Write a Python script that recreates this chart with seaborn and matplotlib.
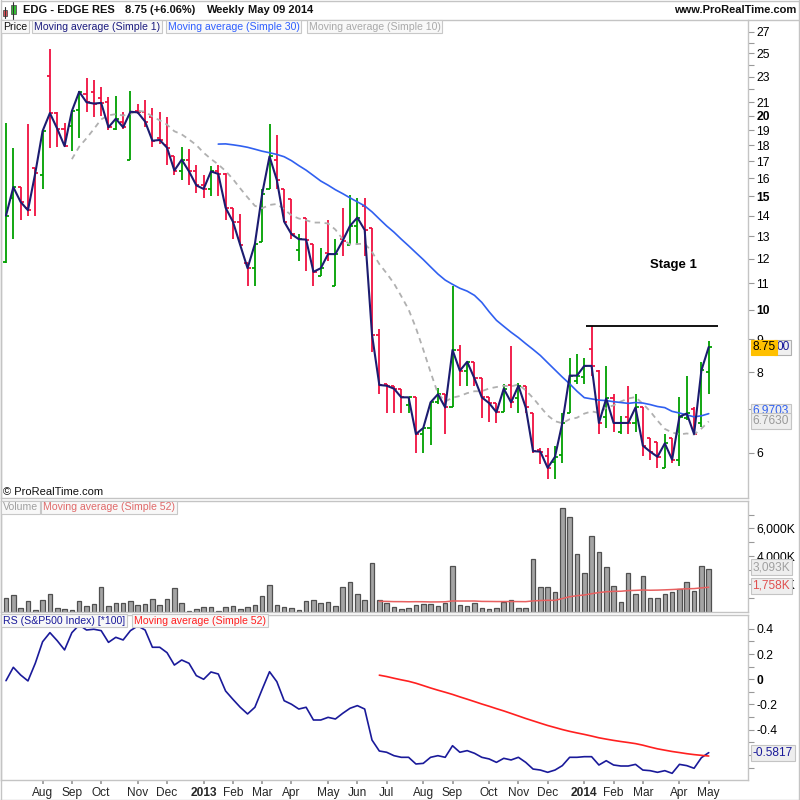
import numpy as np
import pandas as pd
import matplotlib
matplotlib.use("Agg")
import matplotlib.pyplot as plt
import seaborn as sns
from matplotlib.patches import Rectangle
from matplotlib.lines import Line2D
from matplotlib.ticker import FixedLocator, FixedFormatter, NullLocator

sns.set_theme(style="white")
plt.rcParams['font.family'] = ['Liberation Sans', 'DejaVu Sans']

# ---------------- data (weekly bars, week of 2012-07-02 .. 2014-05-05) ----------------
start_week = '2012-07-02'
opens = [11.86, 14.9, 15.5, 14.4, 16.6, 16.2, 23.1, 20.2, 19.1, 19.3,
         20.4, 21.6, 21.8, 21.3, 21.0, 19.1, 19.6, 17.1, 20.35, 20.3,
         19.9, 18.45, 18.0, 17.3, 16.45, 17.1, 16.4, 15.6, 15.4, 16.4,
         16.25, 14.4, 13.7, 11.8, 11.6, 12.75, 15.4, 17.1, 15.4, 14.85,
         12.4, 13.9, 12.65, 11.3, 12.25, 10.9, 12.87, 12.6, 13.5, 14.5,
         13.4, 9.15, 7.66, 7.62, 7.54, 7.1, 7.31, 6.41, 6.55, 7.18,
         7.39, 7.05, 8.66, 8.04, 8.3, 7.82, 7.32, 7.16, 6.93, 7.63,
         7.28, 7.62, 6.9, 6.05, 5.92, 5.8, 5.95, 6.9, 7.75, 7.85,
         8.69, 8.02, 6.82, 7.28, 6.45, 6.82, 6.67, 7.05, 6.33, 6.22,
         5.68, 6.32, 5.85, 6.8, 7.0, 6.67, 8.0]
highs = [19.5, 17.8, 15.5, 19.4, 16.6, 18.95, 25.4, 20.25, 19.5, 20.4,
         21.9, 22.9, 22.7, 22.2, 21.4, 21.5, 20.3, 21.9, 20.9, 21.2,
         20.6, 20.3, 19.9, 17.3, 17.9, 17.75, 16.8, 16.2, 16.7, 16.8,
         16.3, 14.4, 14.1, 11.8, 12.65, 15.4, 19.4, 18.7, 15.4, 14.85,
         13.1, 13.9, 12.65, 12.45, 13.8, 12.9, 14.4, 15.05, 14.9, 14.9,
         13.4, 9.35, 7.67, 7.62, 7.54, 7.31, 7.31, 6.55, 7.18, 7.55,
         7.39, 10.9, 8.8, 8.3, 8.3, 7.82, 7.32, 7.16, 7.66, 8.79,
         7.7, 7.62, 6.9, 6.1, 6.1, 6.15, 6.9, 8.4, 8.55, 8.42,
         9.45, 8.05, 8.18, 7.39, 6.85, 7.62, 7.4, 7.05, 6.33, 6.22,
         6.41, 6.32, 7.33, 7.9, 7.05, 8.3, 8.95]
lows = [11.8, 12.9, 13.8, 14.0, 14.0, 15.4, 17.8, 17.9, 17.9, 17.65,
        18.5, 20.3, 19.9, 20.0, 19.0, 19.0, 19.1, 17.1, 20.1, 19.2,
        17.9, 18.1, 16.8, 16.2, 15.9, 15.6, 15.2, 14.9, 15.0, 15.0,
        13.8, 12.9, 12.6, 10.9, 10.9, 12.75, 15.4, 15.4, 13.7, 12.9,
        11.9, 11.5, 10.9, 11.3, 11.9, 10.9, 12.1, 12.6, 12.6, 12.1,
        8.6, 7.4, 6.9, 6.9, 6.9, 6.9, 6.0, 6.0, 6.17, 7.15,
        6.41, 7.05, 7.62, 7.62, 7.62, 6.8, 6.7, 6.67, 6.93, 7.03,
        6.9, 6.9, 6.0, 5.75, 5.45, 5.45, 5.78, 6.9, 7.67, 7.67,
        7.9, 6.41, 6.55, 6.45, 6.41, 6.41, 6.45, 5.92, 5.85, 5.68,
        5.68, 5.78, 5.72, 6.75, 6.41, 6.57, 7.39]
closes = [14.0, 15.5, 14.7, 14.27, 16.3, 18.95, 20.2, 19.1, 17.95, 20.35,
          21.8, 21.0, 20.9, 20.95, 19.2, 19.8, 19.2, 20.3, 20.25, 19.6,
          18.3, 18.35, 17.85, 16.45, 17.1, 16.4, 15.6, 15.4, 16.4, 16.25,
          14.4, 13.7, 12.6, 11.6, 12.65, 15.15, 17.3, 15.9, 13.7, 13.1,
          12.87, 12.85, 11.45, 11.6, 12.2, 12.2, 12.8, 13.5, 13.9, 13.3,
          9.15, 7.64, 7.62, 7.54, 7.31, 7.31, 6.41, 6.55, 7.18, 7.39,
          7.05, 8.66, 8.04, 8.3, 7.82, 7.31, 7.16, 6.93, 7.54, 7.18,
          7.62, 7.05, 6.03, 6.02, 5.68, 5.91, 6.67, 7.9, 7.9, 8.18,
          8.18, 6.67, 7.28, 6.67, 6.67, 6.67, 7.05, 6.15, 6.02, 5.91,
          6.2, 5.85, 6.82, 6.9, 6.41, 8.05, 8.75]
volume_k = [987, 1204, 265, 746, 120, 842, 1276, 265, 193, 120,
            746, 409, 554, 1781, 409, 626, 626, 746, 481, 554,
            915, 481, 915, 1709, 626, 48, 193, 337, 337, 48,
            337, 409, 193, 337, 481, 1131, 1926, 481, 337, 265,
            120, 770, 842, 626, 698, 409, 1781, 2142, 1276, 842,
            3514, 842, 626, 337, 193, 265, 481, 554, 554, 409,
            626, 3273, 481, 409, 626, 265, 193, 265, 674, 842,
            265, 265, 3803, 1805, 1805, 1396, 7486, 6836, 4164, 2792,
            5464, 4309, 3249, 1853, 698, 2792, 1276, 2575, 987, 987,
            1276, 1420, 1637, 2142, 1492, 3298, 3093]
rs = [-0.011, 0.095, 0.034, -0.013, 0.127, 0.298, 0.37, 0.306, 0.233, 0.37,
      0.431, 0.391, 0.397, 0.386, 0.293, 0.333, 0.312, 0.386, 0.423, 0.391,
      0.254, 0.254, 0.211, 0.113, 0.153, 0.127, 0.029, 0.0, 0.058, 0.042,
      -0.093, -0.159, -0.222, -0.275, -0.222, -0.079, 0.06, -0.019, -0.17, -0.198,
      -0.236, -0.222, -0.323, -0.323, -0.302, -0.315, -0.27, -0.23, -0.209, -0.236,
      -0.482, -0.569, -0.579, -0.606, -0.619, -0.619, -0.672, -0.667, -0.619, -0.606,
      -0.619, -0.527, -0.579, -0.566, -0.587, -0.619, -0.632, -0.659, -0.627, -0.64,
      -0.619, -0.659, -0.712, -0.72, -0.738, -0.72, -0.685, -0.619, -0.619, -0.614,
      -0.614, -0.68, -0.646, -0.68, -0.688, -0.688, -0.675, -0.72, -0.725, -0.738,
      -0.725, -0.746, -0.675, -0.685, -0.706, -0.622, -0.582]
resistance = 9.45
resistance_span = (79.2, 97.3)

price_ticks = [6, 7, 8, 9, 10, 11, 12, 13, 14, 15, 16, 17, 18, 19, 20, 21, 22, 23, 24, 25, 26, 27]
price_labels = ['6', '', '8', '9', '10', '11', '12', '13', '14', '15', '16', '17', '18', '19', '20',
                '21', '', '23', '', '25', '', '27']
vol_ticks = [1000, 2000, 3000, 4000, 5000, 6000, 7000]
vol_labels = ['', '2,000K', '', '4,000K', '', '6,000K', '']
rs_ticks = [-0.7, -0.6, -0.5, -0.4, -0.3, -0.2, -0.1, 0.0, 0.1, 0.2, 0.3, 0.4]
rs_labels = ['', '', '', '-0.4', '', '-0.2', '', '0', '', '0.2', '', '0.4']

n = len(closes)
dates = pd.date_range(start_week, periods=n, freq='W-MON')
df = pd.DataFrame({'i': np.arange(n), 'open': opens, 'high': highs, 'low': lows,
                   'close': closes, 'volume': volume_k, 'rs': rs})
df['ma1'] = df['close'].rolling(1).mean()
df['ma30'] = df['close'].rolling(30).mean()
df['ma10'] = df['close'].rolling(10).mean()
df['vma'] = df['volume'].rolling(52).mean()
df['rsma'] = df['rs'].rolling(52).mean()

# ---------------- layout ----------------
W = H = 800
fig = plt.figure(figsize=(8, 8), dpi=100)
fig.patch.set_facecolor('white')

def rect(x0, y0, x1, y1):
    return [x0 / W, 1 - y1 / H, (x1 - x0) / W, (y1 - y0) / H]

def fx(x):
    return x / W

def fy(y):
    return 1 - y / H

SP = '#c4c4c4'
axp = fig.add_axes(rect(1, 20, 748, 498))
axv = fig.add_axes(rect(1, 501, 748, 612), sharex=axp)
axr = fig.add_axes(rect(1, 615, 748, 780), sharex=axp)

for ax in (axp, axv, axr):
    ax.set_facecolor('white')
    for s in ax.spines.values():
        s.set_color(SP)
        s.set_linewidth(1)
    ax.grid(False)
    ax.yaxis.tick_right()
    ax.tick_params(axis='y', which='both', direction='out', length=4, width=0.8,
                   color='#999999', labelsize=8.7, pad=2, labelcolor='black', left=False, right=True)

# ---------------- price panel ----------------
up = df['close'] >= df['open']
cols = np.where(up, '#00a000', '#f01040')
axp.vlines(df['i'], df['low'], df['high'], colors=cols, lw=1.3, zorder=2)
axp.hlines(df['open'], df['i'] - 0.42, df['i'], colors=cols, lw=1.3, zorder=2)
axp.hlines(df['close'], df['i'], df['i'] + 0.42, colors=cols, lw=1.3, zorder=2)

sns.lineplot(data=df, x='i', y='ma10', ax=axp, color='#b0b0b0', lw=1.3,
             linestyle=(0, (3, 2.5)), legend=False, zorder=3)
sns.lineplot(data=df, x='i', y='ma30', ax=axp, color='#3060f0', lw=1.2, legend=False, zorder=3)
sns.lineplot(data=df, x='i', y='ma1', ax=axp, color='#1c1c70', lw=1.5, legend=False, zorder=4)
axp.hlines(resistance, resistance_span[0], resistance_span[1], colors='black', lw=1.3, zorder=4)

axp.set_yscale('log')
axp.set_ylim(5.10, 28.18)
axp.yaxis.set_major_locator(FixedLocator(price_ticks))
axp.yaxis.set_major_formatter(FixedFormatter(price_labels))
axp.yaxis.set_minor_locator(NullLocator())
axp.set_xlabel('')
axp.set_ylabel('')
fig.text(673 / W, 1 - 265 / H, 'Stage 1', fontsize=9.5, fontweight='bold',
         ha='center', va='center', color='black')

# ---------------- volume panel ----------------
sns.barplot(data=df, x='i', y='volume', ax=axv, native_scale=True, color='#a4a4a4',
            edgecolor='#505050', linewidth=0.9, width=0.62, errorbar=None, saturation=1, zorder=2)
sns.lineplot(data=df, x='i', y='vma', ax=axv, color='#e86060', lw=1.1, legend=False, zorder=3)
axv.set_ylim(-36, 7978)
axv.yaxis.set_major_locator(FixedLocator(vol_ticks))
axv.yaxis.set_major_formatter(FixedFormatter(vol_labels))
axv.yaxis.set_minor_locator(NullLocator())
axv.set_xlabel('')
axv.set_ylabel('')

# ---------------- RS panel ----------------
sns.lineplot(data=df, x='i', y='rs', ax=axr, color='#1a1a9a', lw=1.2, legend=False, zorder=3)
sns.lineplot(data=df, x='i', y='rsma', ax=axr, color='#ff2020', lw=1.2, legend=False, zorder=3)
axr.set_ylim(-0.799, 0.51)
axr.yaxis.set_major_locator(FixedLocator(rs_ticks))
axr.yaxis.set_major_formatter(FixedFormatter(rs_labels))
axr.yaxis.set_minor_locator(NullLocator())
axr.set_xlabel('')
axr.set_ylabel('')

month_pos = [i for i in range(1, n) if dates[i].month != dates[i - 1].month]
month_lab = [str(dates[i].year) if dates[i].month == 1 else dates[i].strftime('%b') for i in month_pos]
axr.xaxis.set_major_locator(FixedLocator(month_pos))
axr.xaxis.set_major_formatter(FixedFormatter(month_lab))
axr.xaxis.set_minor_locator(NullLocator())
axr.tick_params(axis='x', bottom=True, labelbottom=True, direction='out', length=3,
                color='#999999', labelsize=8.6, pad=2)
for ax in (axp, axv):
    ax.tick_params(axis='x', bottom=False, labelbottom=False)
axp.set_xlim((1 - 6) / 7.32, (748 - 6) / 7.32)

fig.canvas.draw()
for lbl in axp.get_yticklabels():
    if lbl.get_text() in ('10', '15', '20'):
        lbl.set_fontweight('bold')
for lbl in axr.get_yticklabels():
    if lbl.get_text() == '0':
        lbl.set_fontweight('bold')
for lbl in axr.get_xticklabels():
    if lbl.get_text().isdigit():
        lbl.set_fontweight('bold')

# ---------------- header / labels ----------------
def ftext(x, y, s, **kw):
    kw.setdefault('fontsize', 7.6)
    kw.setdefault('va', 'center')
    kw.setdefault('ha', 'left')
    return fig.text(fx(x), fy(y), s, **kw)

# small candle icon
fig.add_artist(Line2D([fx(5.3), fx(5.3)], [fy(7), fy(18)], color='#333333', lw=0.8))
fig.add_artist(Rectangle((fx(3.3), fy(16)), fx(4), 6 / H, facecolor='#e8505a', edgecolor='#555555', lw=0.6))
fig.add_artist(Line2D([fx(13.3), fx(13.3)], [fy(2), fy(19)], color='#333333', lw=0.8))
fig.add_artist(Rectangle((fx(11.2), fy(14)), fx(4.4), 9 / H, facecolor='#30c030', edgecolor='#555555', lw=0.6))

hb = dict(fontsize=8.0, fontweight='bold', color='#111111')
ftext(23, 10, 'EDG - EDGE RES', **hb)
ftext(125, 10, '8.75 (+6.06%)', **hb)
ftext(207, 10, 'Weekly', **hb)
ftext(248, 10, 'May 09 2014', **hb)
ftext(796, 10, 'www.ProRealTime.com', ha='right', **hb)


def strip(x, y, s, color):
    ftext(x, y, s, color=color,
          bbox=dict(boxstyle='square,pad=0.15', fc='#f8f8f8', ec='#c8c8c8', lw=0.8))

strip(3, 26.5, 'Price', '#111111')
strip(34, 26.5, 'Moving average (Simple 1)', '#1c1c80')
strip(168, 26.5, 'Moving average (Simple 30)', '#2f5fff')
strip(309, 26.5, 'Moving average (Simple 10)', '#aaaaaa')

strip(3, 507.5, 'Volume', '#a0a0a0')
strip(43, 507.5, 'Moving average (Simple 52)', '#e06a6a')

strip(3, 620.5, 'RS (S&P500 Index) [*100]', '#1a1a9a')
strip(134, 620.5, 'Moving average (Simple 52)', '#ff2020')

ftext(3, 492, '\u00a9 ProRealTime.com', fontsize=8, color='#111111')

# right-axis value boxes
VS = 8.6
t_close = ftext(752.5, 347.5, '8.75', color='black', fontsize=VS, zorder=7,
                bbox=dict(boxstyle='square,pad=0.15', fc='#ffc000', ec='#ffc000', lw=0.8))
fig.canvas.draw()
bb = t_close.get_window_extent()
x_end_px = bb.x1  # display px, same scale as the 800 px canvas
ftext(x_end_px + 0.5, 347.5, '00', color='#1a1a9a', fontsize=VS, zorder=6,
      bbox=dict(boxstyle='square,pad=0.15', fc='#f0f0f0', ec='#b0b0b0', lw=0.8))

ftext(752.5, 411.5, '6.9703', color='#3060f0', fontsize=VS, zorder=5,
      bbox=dict(boxstyle='square,pad=0.15', fc='#eeeeee', ec='#c4c4c4', lw=0.8))
ftext(752.5, 421, '6.7630', color='#999999', fontsize=VS, zorder=6,
      bbox=dict(boxstyle='square,pad=0.15', fc='#eeeeee', ec='#c4c4c4', lw=0.8))

ftext(752.5, 567, '3,093K', color='#a0a0a0', fontsize=VS, zorder=5,
      bbox=dict(boxstyle='square,pad=0.15', fc='#eeeeee', ec='#c4c4c4', lw=0.8))
ftext(752.5, 586, '1,758K', color='#e05050', fontsize=VS, zorder=6,
      bbox=dict(boxstyle='square,pad=0.15', fc='#eeeeee', ec='#c4c4c4', lw=0.8))

ftext(752.5, 753, '-0.5817', color='#1a1a9a', fontsize=VS, zorder=5,
      bbox=dict(boxstyle='square,pad=0.15', fc='#eeeeee', ec='#c4c4c4', lw=0.8))

# outer frame lines
for (x0, y0, x1, y1) in [(0.5, 0.5, 799.5, 0.5), (799, 0, 799, 800), (0.5, 0, 0.5, 800),
                         (0, 799.5, 800, 799.5), (748, 20, 800, 20)]:
    fig.add_artist(Line2D([fx(x0), fx(x1)], [fy(y0), fy(y1)], color=SP, lw=1))

fig.savefig('out.png', dpi=100, facecolor='white')
